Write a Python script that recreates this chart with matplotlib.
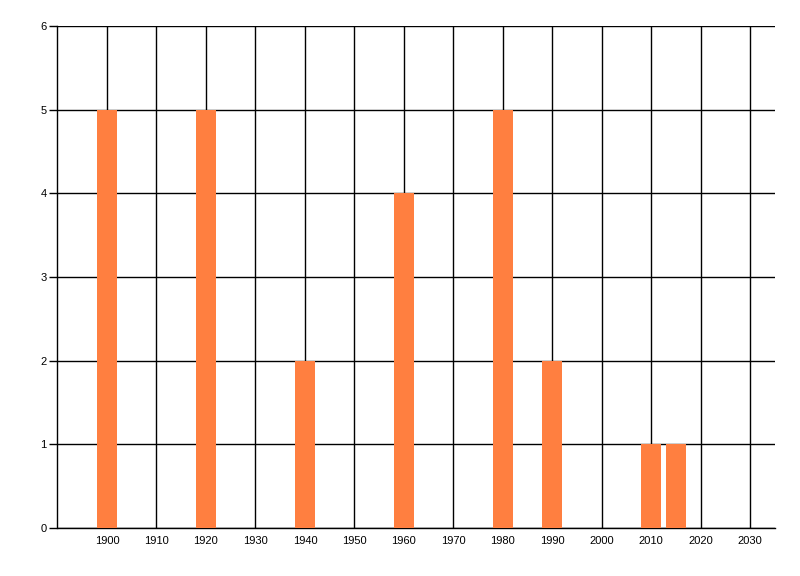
import matplotlib
matplotlib.use("Agg")
import matplotlib.pyplot as plt

# data
years = [1900, 1920, 1940, 1960, 1980, 1990, 2010, 2015]
counts = [5, 5, 2, 4, 5, 2, 1, 1]
x_ticks = list(range(1900, 2031, 10))
y_ticks = list(range(0, 7))

bar_color = "#FF7F40"

plt.rcParams["font.family"] = ["Liberation Sans", "DejaVu Sans"]

fig = plt.figure(figsize=(8, 5.76), dpi=100)
ax = fig.add_axes([57.5 / 800, 48 / 576, (775 - 57.5) / 800, (528 - 26) / 576])

ax.bar(years, counts, width=4, color=bar_color, zorder=3)

ax.set_xlim(1890, 2035)
ax.set_ylim(0, 6)
ax.set_xticks(x_ticks)
ax.set_yticks(y_ticks)
ax.tick_params(axis="x", length=0, pad=5.5, labelsize=8)
ax.tick_params(axis="y", length=6, width=1, pad=2, labelsize=8)

ax.grid(True, color="black", linewidth=1, zorder=1)
ax.set_axisbelow(True)

for side in ["top", "right"]:
    ax.spines[side].set_visible(False)
for side in ["left", "bottom"]:
    ax.spines[side].set_linewidth(1)
    ax.spines[side].set_color("black")

fig.savefig("out.png", dpi=100)
